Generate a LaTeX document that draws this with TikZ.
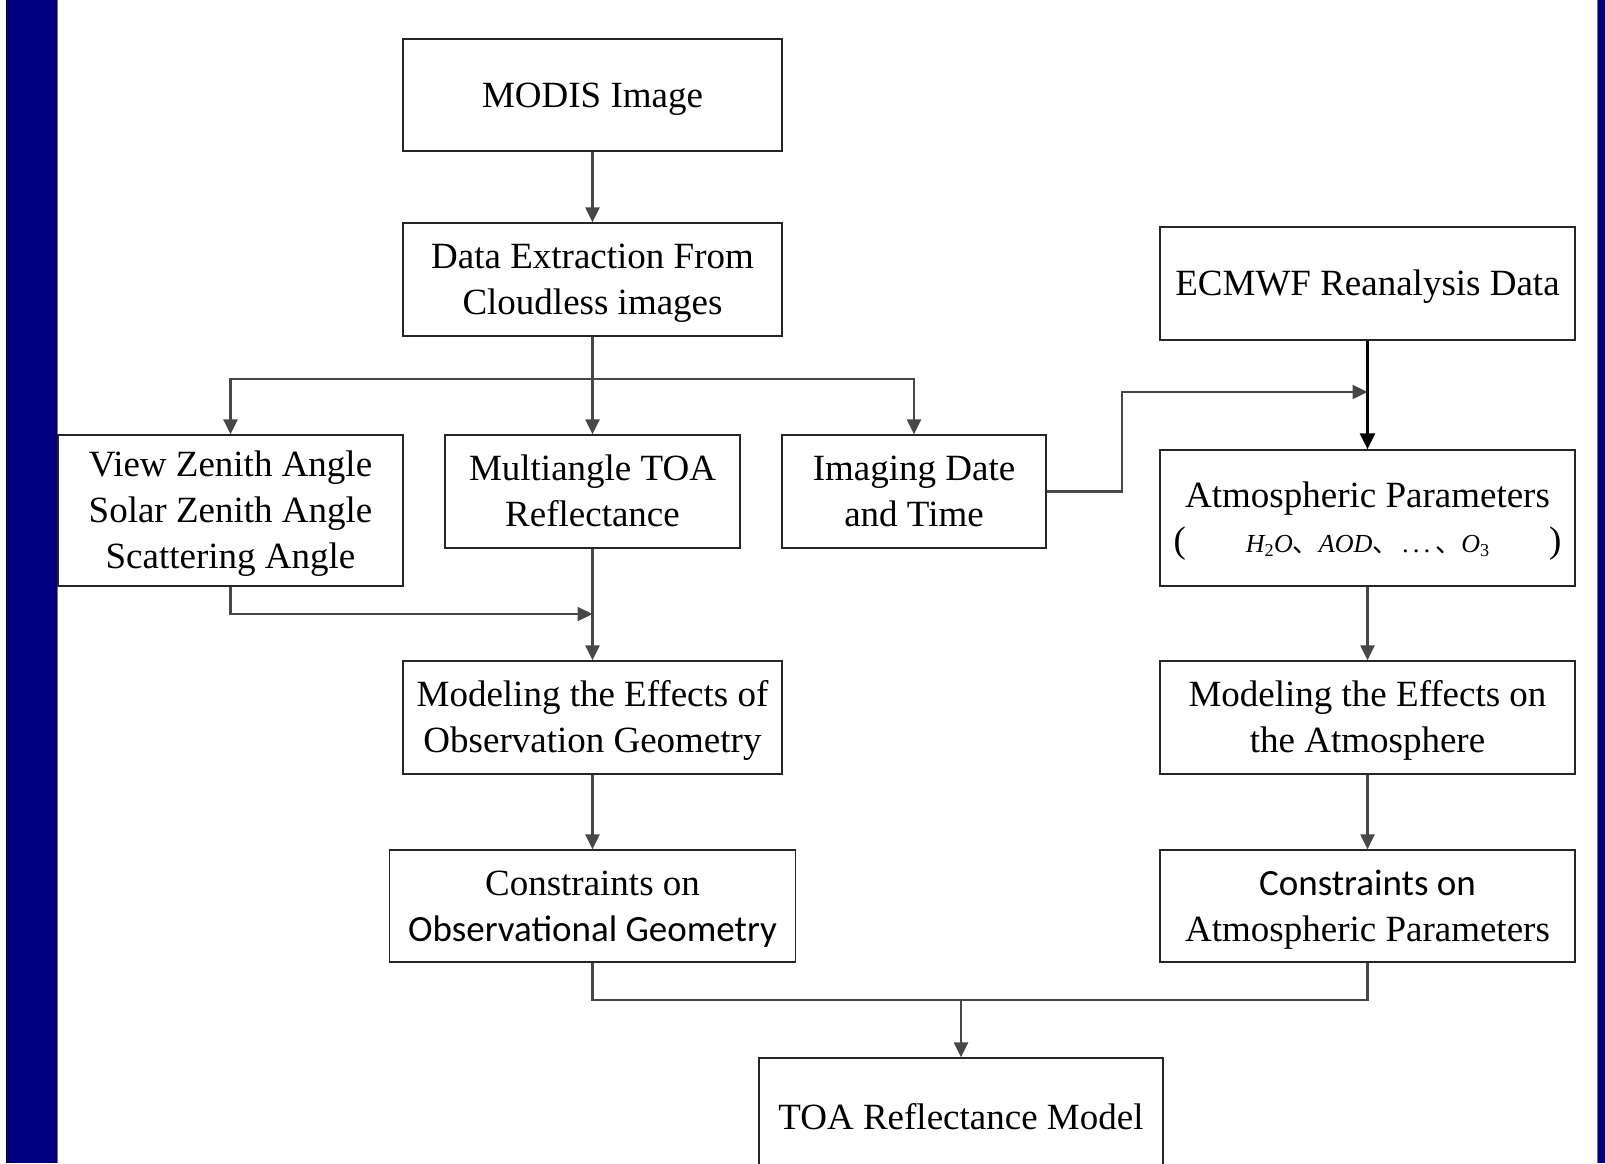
\documentclass[tikz,border=0pt]{standalone}
\usepackage{fontspec}
\setmainfont{Liberation Serif}
\newfontfamily\calfont{Carlito}
\newfontfamily\cjkfont{Noto Sans CJK SC}
\usetikzlibrary{arrows.meta,calc}
\newcommand{\topstrut}{\rule{0pt}{36.6pt}}
\newcommand{\botstrut}{\rule[-12pt]{0pt}{0pt}}
\begin{document}
\begin{tikzpicture}[x=1pt,y=-1pt,
  box/.style={draw=black!85,line width=1.3pt,minimum width=#1,inner sep=0pt,align=center,
    font=\fontsize{37}{46}\selectfont},
  conn/.style={draw=black!72,line width=2.3pt},
  arr/.style={conn,-{Triangle[length=15pt,width=14pt]}}]
\useasboundingbox (0,0) rectangle (1605,1163);
\clip (0,0) rectangle (1605,1163);
\fill[white] (0,0) rectangle (1605,1163);
% side bars
\fill[fill={rgb,255:red,0;green,0;blue,128}] (7,0) rectangle (57,1163);
\draw[black,line width=1.5pt] (6.5,0) -- (6.5,1163);
\draw[black!55,line width=1pt] (57.5,0) -- (57.5,1163);
\fill[fill={rgb,255:red,0;green,0;blue,128}] (1597,0) rectangle (1605,1163);
\draw[black!55,line width=1pt] (1597,0) -- (1597,1163);
% boxes
\node[box=379pt,minimum height=112pt] (modis) at (592.5,95) {\topstrut MODIS Image\botstrut};
\node[box=379pt,minimum height=113pt] (data) at (592.5,279.5) {\topstrut Data Extraction From\\Cloudless images\botstrut};
\node[box=415pt,minimum height=113pt] (ecmwf) at (1367.5,283.5) {\topstrut ECMWF Reanalysis Data\botstrut};
\node[box=345pt,minimum height=151pt] (view) at (230.5,510.5) {\topstrut View Zenith Angle\\Solar Zenith Angle\\Scattering Angle\botstrut};
\node[box=295pt,minimum height=113pt] (multi) at (592.5,491.5) {\topstrut Multiangle TOA\\Reflectance\botstrut};
\node[box=264pt,minimum height=113pt] (imaging) at (914,491.5) {\topstrut Imaging Date\\and Time\botstrut};
\node[box=415pt,minimum height=136pt] (atm) at (1367.5,518) {\topstrut Atmospheric Parameters\\[-1pt]
  \makebox[388pt]{(\hspace{60pt}{\fontsize{26}{30}\selectfont\itshape H\textsubscript{\upshape 2}O{\cjkfont\upshape 、}AOD{\cjkfont\upshape 、}\,.\,.\,.\,{\cjkfont\upshape 、}O\textsubscript{\upshape 3}}\hfill)}\botstrut};
\node[box=379pt,minimum height=113pt] (modobs) at (592.5,717.5) {\topstrut Modeling the Effects of\\Observation Geometry\botstrut};
\node[box=415pt,minimum height=113pt] (modatm) at (1367.5,717.5) {\topstrut Modeling the Effects on\\the Atmosphere\botstrut};
\node[box=406pt,minimum height=112pt] (conobs) at (592.5,906) {\topstrut Constraints on\\{\calfont Observational Geometry}\botstrut};
\node[box=415pt,minimum height=112pt] (conatm) at (1367.5,906) {\topstrut{\calfont Constraints on}\\Atmospheric Parameters\botstrut};
\node[box=404pt,minimum height=118pt] (toa) at (961,1117) {\topstrut TOA Reflectance Model\botstrut};
% connectors
\coordinate (split) at (592.5,379);
\coordinate (jog) at (1122,392);
\coordinate (vjoin) at (592.5,614);
\coordinate (merge) at (961,1000);
\draw[arr] (modis) -- (data);
\draw[arr] (data) -- (multi);
\draw[arr] (split) -| (view.north);
\draw[arr] (split) -| (imaging.north);
\draw[arr] (imaging.east) -| (jog) -- (jog -| ecmwf.south);
\draw[line width=2.7pt,black,-{Triangle[length=16pt,width=15pt]}] (ecmwf) -- (atm);
\draw[arr] (view.south) |- (vjoin);
\draw[arr] (multi) -- (modobs);
\draw[arr] (modobs) -- (conobs);
\draw[arr] (atm) -- (modatm);
\draw[arr] (modatm) -- (conatm);
\draw[conn] (conobs.south) |- (merge) -| (conatm.south);
\draw[arr] (merge) -- (toa.north);
\end{tikzpicture}
\end{document}
